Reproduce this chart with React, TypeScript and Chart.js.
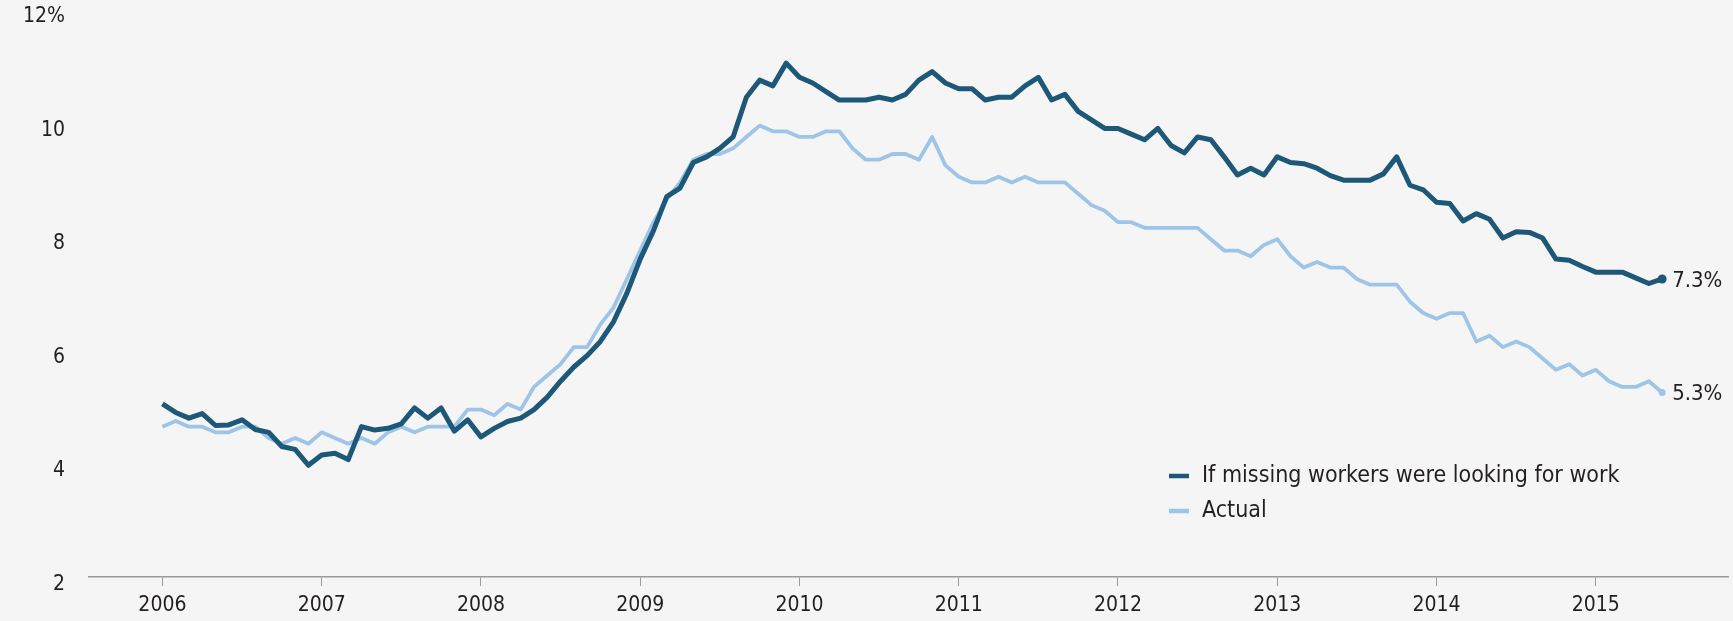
import React, { useEffect, useRef } from "react";
import { Chart, registerables } from "chart.js";

Chart.register(...registerables);

// Monthly series, January 2006 through June 2015
const START_YEAR = 2006;
const yearTicks = [2006, 2007, 2008, 2009, 2010, 2011, 2012, 2013, 2014, 2015];
const yTickValues = [2, 4, 6, 8, 10, 12];

const seriesNames = ["If missing workers were looking for work", "Actual"];

const ifMissingWorkers = [
  // 2006
  5.1, 4.95, 4.85, 4.93, 4.72, 4.73, 4.82, 4.65, 4.6, 4.35, 4.3, 4.02,
  // 2007
  4.2, 4.23, 4.12, 4.7, 4.64, 4.67, 4.75, 5.03, 4.85, 5.03, 4.62, 4.82,
  // 2008
  4.52, 4.67, 4.79, 4.85, 5.0, 5.22, 5.5, 5.75, 5.95, 6.2, 6.55, 7.05,
  // 2009
  7.65, 8.15, 8.75, 8.9, 9.35, 9.45, 9.6, 9.8, 10.5, 10.8, 10.7, 11.1,
  // 2010
  10.85, 10.75, 10.6, 10.45, 10.45, 10.45, 10.5, 10.45, 10.55, 10.8, 10.95, 10.75,
  // 2011
  10.65, 10.65, 10.45, 10.5, 10.5, 10.7, 10.85, 10.45, 10.55, 10.25, 10.1, 9.95,
  // 2012
  9.95, 9.85, 9.75, 9.95, 9.65, 9.52, 9.8, 9.75, 9.45, 9.13, 9.25, 9.13,
  // 2013
  9.45, 9.35, 9.33, 9.25, 9.12, 9.04, 9.04, 9.04, 9.15, 9.45, 8.95, 8.87,
  // 2014
  8.65, 8.63, 8.32, 8.45, 8.35, 8.02, 8.13, 8.12, 8.02, 7.65, 7.63, 7.52,
  // 2015
  7.42, 7.42, 7.42, 7.32, 7.22, 7.3,
];

const actualRate = [
  // 2006
  4.7, 4.8, 4.7, 4.7, 4.6, 4.6, 4.7, 4.7, 4.5, 4.4, 4.5, 4.4,
  // 2007
  4.6, 4.5, 4.4, 4.5, 4.4, 4.6, 4.7, 4.6, 4.7, 4.7, 4.7, 5.0,
  // 2008
  5.0, 4.9, 5.1, 5.0, 5.4, 5.6, 5.8, 6.1, 6.1, 6.5, 6.8, 7.3,
  // 2009
  7.8, 8.3, 8.7, 9.0, 9.4, 9.5, 9.5, 9.6, 9.8, 10.0, 9.9, 9.9,
  // 2010
  9.8, 9.8, 9.9, 9.9, 9.6, 9.4, 9.4, 9.5, 9.5, 9.4, 9.8, 9.3,
  // 2011
  9.1, 9.0, 9.0, 9.1, 9.0, 9.1, 9.0, 9.0, 9.0, 8.8, 8.6, 8.5,
  // 2012
  8.3, 8.3, 8.2, 8.2, 8.2, 8.2, 8.2, 8.0, 7.8, 7.8, 7.7, 7.9,
  // 2013
  8.0, 7.7, 7.5, 7.6, 7.5, 7.5, 7.3, 7.2, 7.2, 7.2, 6.9, 6.7,
  // 2014
  6.6, 6.7, 6.7, 6.2, 6.3, 6.1, 6.2, 6.1, 5.9, 5.7, 5.8, 5.6,
  // 2015
  5.7, 5.5, 5.4, 5.4, 5.5, 5.3,
];

const DARK = "#1d5878";
const LIGHT = "#9ec5e7";
const TEXT = "#231f20";
const AXIS = "#9a9a9a";
const BG = "#f5f5f5";
const FONT = "'Liberation Sans Narrow', 'DejaVu Sans Condensed', 'Open Sans', sans-serif";

const toPoints = (vals: number[]) =>
  vals.map((v, i) => ({ x: START_YEAR + i / 12, y: v }));

const yLabel = (v: number) => (v === 12 ? "12%" : String(v));

const overlayPlugin = {
  id: "overlay",
  afterDatasetsDraw(chart: any) {
    const ctx = chart.ctx as CanvasRenderingContext2D;
    ctx.save();
    // y-axis tick labels (drawn slightly below the tick value, as in the source)
    const yScale = chart.scales.y;
    ctx.font = `21px ${FONT}`;
    ctx.fillStyle = TEXT;
    ctx.textAlign = "right";
    ctx.textBaseline = "middle";
    yTickValues.forEach((v) => {
      ctx.fillText(yLabel(v), chart.chartArea.left - 24, yScale.getPixelForValue(v) + 4.5);
    });
    // end-of-line value labels
    ctx.font = `22px ${FONT}`;
    ctx.textAlign = "left";
    chart.data.datasets.forEach((ds: any, i: number) => {
      const meta = chart.getDatasetMeta(i);
      const el = meta.data[meta.data.length - 1];
      const v = ds.data[ds.data.length - 1].y;
      ctx.fillText(`${v.toFixed(1)}%`, el.x + 10, el.y + 2);
    });
    // legend
    const lx = 1169;
    const rows = [476, 511];
    chart.data.datasets.forEach((ds: any, i: number) => {
      const y = rows[i];
      ctx.strokeStyle = ds.borderColor;
      ctx.lineWidth = 4.5;
      ctx.lineCap = "butt";
      ctx.beginPath();
      ctx.moveTo(lx, y);
      ctx.lineTo(lx + 20, y);
      ctx.stroke();
      ctx.font = `23px ${FONT}`;
      ctx.fillStyle = TEXT;
      ctx.fillText(ds.label, lx + 33, y);
    });
    ctx.restore();
  },
};

export default function App() {
  const ref = useRef<HTMLCanvasElement | null>(null);

  useEffect(() => {
    document.body.style.margin = "0";
    document.body.style.background = BG;
    if (!ref.current) return;
    const lastIdx = (arr: number[]) => arr.length - 1;
    const chart = new Chart(ref.current, {
      type: "line",
      data: {
        datasets: [
          {
            label: seriesNames[0],
            data: toPoints(ifMissingWorkers),
            borderColor: DARK,
            backgroundColor: DARK,
            borderWidth: 5,
            pointRadius: (c: any) => (c.dataIndex === lastIdx(ifMissingWorkers) ? 4.5 : 0),
            pointBorderWidth: 0,
            tension: 0,
            borderJoinStyle: "round",
          },
          {
            label: seriesNames[1],
            data: toPoints(actualRate),
            borderColor: LIGHT,
            backgroundColor: LIGHT,
            borderWidth: 3.8,
            pointRadius: (c: any) => (c.dataIndex === lastIdx(actualRate) ? 3.5 : 0),
            pointBorderWidth: 0,
            tension: 0,
            borderJoinStyle: "round",
          },
        ],
      },
      options: {
        animation: false,
        responsive: false,
        maintainAspectRatio: false,
        layout: { padding: { top: 12, left: 0, right: 0, bottom: 0 } },
        plugins: {
          legend: { display: false },
          tooltip: { enabled: false },
        },
        scales: {
          x: {
            type: "linear",
            min: 2005.5391,
            max: 2015.8334,
            grid: {
              drawOnChartArea: false,
              drawTicks: true,
              tickLength: 9,
              color: AXIS,
              lineWidth: 1,
            },
            border: { display: true, color: AXIS, width: 1.5 },
            afterBuildTicks: (scale: any) => {
              scale.ticks = yearTicks.map((v) => ({ value: v }));
            },
            afterFit: (scale: any) => {
              scale.height = 44;
              scale.paddingLeft = 0;
              scale.paddingRight = 0;
            },
            ticks: {
              includeBounds: false,
              autoSkip: false,
              maxRotation: 0,
              padding: 7,
              color: TEXT,
              font: { family: FONT, size: 21 },
              callback: (v: any) => String(v),
            },
          },
          y: {
            type: "linear",
            min: 2.053,
            max: 12,
            grid: { display: false, drawTicks: false },
            border: { display: false },
            afterBuildTicks: (scale: any) => {
              scale.ticks = yTickValues.map((v) => ({ value: v }));
            },
            afterFit: (scale: any) => {
              scale.width = 89;
              scale.paddingTop = 0;
              scale.paddingBottom = 0;
            },
            ticks: { display: false },
          },
        },
      },
      plugins: [overlayPlugin],
    } as any);
    return () => chart.destroy();
  }, []);

  return (
    <div
      style={{
        position: "fixed",
        left: 0,
        top: 0,
        width: 1733,
        height: 621,
        background: BG,
      }}
    >
      <canvas ref={ref} width={1733} height={621} style={{ width: 1733, height: 621 }} />
    </div>
  );
}
